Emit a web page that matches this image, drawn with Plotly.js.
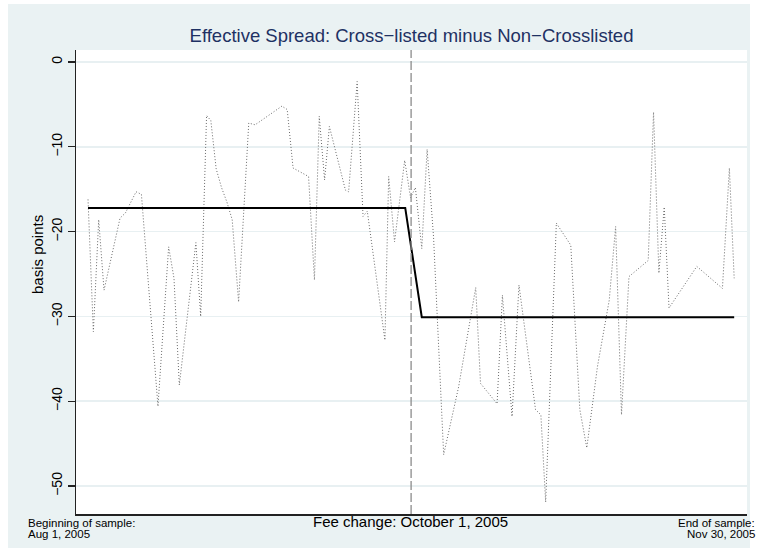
<!DOCTYPE html>
<html>
<head>
<meta charset="utf-8">
<script src="https://cdn.plot.ly/plotly-3.0.1.min.js"></script>
<style>
  html, body { margin: 0; padding: 0; background: #ffffff; }
  #chart { width: 758px; height: 550px; }
</style>
</head>
<body>
<div id="chart"></div>
<script>
// Days since Aug 1, 2005 and daily spread difference (basis points)
const day = [0, 1, 2, 3, 6, 7, 9, 10, 13.1, 15.1, 16.1, 17.1, 20.2, 21.1, 22.2, 23.0, 24.0, 25.0, 26.0, 27.0,
  28.2, 30.1, 31.3, 36.3, 37.3, 38.4, 41.3, 42.4, 43.3, 44.3, 45.2, 46.9, 48.2, 48.8, 50.4, 51.5, 52.3,
  55.6, 56.3, 57.4, 59.3, 60.4, 61.3, 62.5, 63.5, 64.7, 66.6, 69.4, 72.6, 73.5, 76.6, 77.6, 79.4, 80.7,
  83.8, 84.8, 85.7, 87.7, 90.4, 92.1, 93.4, 95.4, 97.6, 98.8, 99.9, 101.3, 104.9, 105.9, 106.9, 107.9,
  108.8, 114.0, 118.8, 120.1, 121.0];
const spread = [-16.2, -31.8, -18.6, -26.9, -18.4, -17.8, -15.3, -15.6, -40.6, -21.8, -25.5, -38.1, -21.3, -30.0,
  -6.3, -6.9, -12.6, -14.8, -16.5, -18.6, -28.3, -7.2, -7.4, -5.2, -5.6, -12.5, -13.5, -25.7, -6.4, -13.9,
  -7.6, -11.9, -15.1, -15.3, -2.3, -18.2, -17.6, -32.8, -13.5, -21.2, -11.6, -16.0, -14.8, -22.0, -10.3,
  -20.6, -46.3, -38.3, -26.6, -37.9, -40.3, -27.5, -41.8, -26.3, -41.0, -41.6, -51.9, -19.0, -21.6, -41.0,
  -45.5, -35.9, -28.1, -19.4, -41.6, -25.3, -23.4, -5.9, -24.9, -17.1, -29.0, -24.1, -26.7, -12.5, -25.5];

// Mean before / after the fee change
const stepDay = [0, 59.4, 62.5, 121];
const stepSpread = [-17.2, -17.2, -30.1, -30.1];

const feeChangeDay = 60.5;

const yTickVals = [0, -10, -20, -30, -40, -50];
const yTickText = ['0', '\u221210', '\u221220', '\u221230', '\u221240', '\u221250'];

const titleText = 'Effective Spread: Cross\u2212listed minus Non\u2212Crosslisted';
const yTitle = 'basis points';
const noteLeft = ['Beginning of sample:', 'Aug 1, 2005'];
const noteMid = 'Fee change: October 1, 2005';
const noteRight = ['End of sample:', 'Nov 30, 2005'];

const W = 758, H = 550;
const L = 76, R = 11, T = 50, B = 36;
const pw = W - L - R, ph = H - T - B;
const px = v => (v - L) / pw;          // page x -> paper x
const py = v => (H - B - v) / ph;      // page y -> paper y

const FONT = 'Liberation Sans, Arial, Helvetica, sans-serif';

const traces = [
  {
    x: day, y: spread, type: 'scatter', mode: 'lines',
    line: { color: '#6a6a6a', width: 1, dash: '1px,2px' },
    hoverinfo: 'skip', showlegend: false
  },
  {
    x: stepDay, y: stepSpread, type: 'scatter', mode: 'lines',
    line: { color: '#000000', width: 2 },
    hoverinfo: 'skip', showlegend: false
  }
];

const smallNote = (text, x, y, anchor) => ({
  text: text, showarrow: false, align: anchor,
  xref: 'paper', yref: 'paper', x: px(x), y: py(y),
  xanchor: anchor, yanchor: 'middle',
  font: { family: FONT, size: 11.5, color: '#000000' }
});

const layout = {
  width: W, height: H,
  margin: { l: L, r: R, t: T, b: B, pad: 0 },
  paper_bgcolor: '#ffffff',
  plot_bgcolor: '#ffffff',
  font: { family: FONT, color: '#000000' },
  showlegend: false,
  title: {
    text: titleText,
    font: { family: FONT, size: 18.5, color: '#1e3163' },
    x: 0.5, xref: 'paper', xanchor: 'center',
    y: 1 - 36 / H, yref: 'container', yanchor: 'middle'
  },
  xaxis: {
    range: [-2.25, 123.4],
    showgrid: false, zeroline: false,
    showticklabels: false, ticks: '',
    showline: true, linecolor: '#222222', linewidth: 1.5,
    fixedrange: true
  },
  yaxis: {
    range: [-53.3, 1.42],
    tickvals: yTickVals, ticktext: yTickText,
    tickangle: -90,
    ticks: 'outside', ticklen: 7, tickwidth: 1.2, tickcolor: '#222222',
    tickfont: { family: FONT, size: 14, color: '#000000' },
    showgrid: true, gridcolor: '#e8f0f2', gridwidth: 1.5,
    zeroline: false,
    showline: true, linecolor: '#222222', linewidth: 1.5,
    fixedrange: true
  },
  shapes: [
    { type: 'rect', xref: 'paper', yref: 'paper', layer: 'below',
      x0: px(8), x1: px(750), y0: py(548), y1: py(4),
      fillcolor: '#eaf2f3', line: { width: 0 } },
    { type: 'rect', xref: 'paper', yref: 'paper', layer: 'below',
      x0: 0, x1: 1, y0: 0, y1: 1,
      fillcolor: '#ffffff', line: { width: 0 } },
    { type: 'line', xref: 'x', yref: 'paper',
      x0: feeChangeDay, x1: feeChangeDay, y0: 0, y1: 1,
      line: { color: '#8c8c8c', width: 1.3, dash: '9px,3px' } }
  ],
  annotations: [
    { text: yTitle, textangle: -90, showarrow: false,
      xref: 'paper', yref: 'paper', x: px(37), y: py(255),
      xanchor: 'center', yanchor: 'middle',
      font: { family: FONT, size: 15, color: '#000000' } },
    smallNote(noteLeft[0], 26, 523, 'left'),
    smallNote(noteLeft[1], 26, 534, 'left'),
    { text: noteMid, showarrow: false, align: 'center',
      xref: 'paper', yref: 'paper', x: px(410.5), y: py(521),
      xanchor: 'center', yanchor: 'middle',
      font: { family: FONT, size: 15, color: '#000000' } },
    smallNote(noteRight[0], 757, 523, 'right'),
    smallNote(noteRight[1], 757, 534, 'right')
  ]
};

Plotly.newPlot('chart', traces, layout, { staticPlot: true, displayModeBar: false });
</script>
</body>
</html>
